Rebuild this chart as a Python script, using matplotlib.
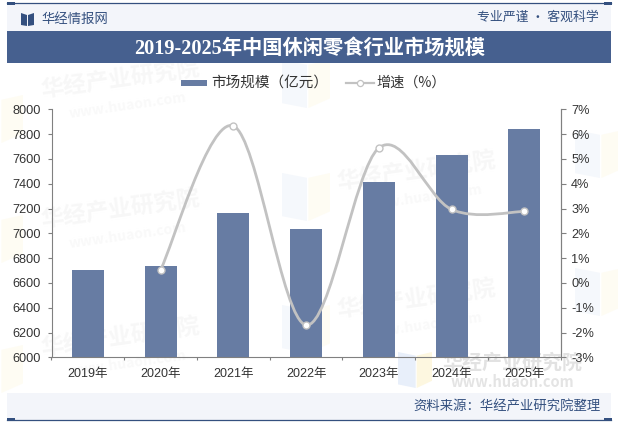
import matplotlib
matplotlib.use("Agg")
from matplotlib import pyplot as plt
from matplotlib.path import Path
from matplotlib.patches import PathPatch, Polygon, Rectangle
import numpy as np

plt.rcParams['font.family'] = ['Liberation Sans', 'Noto Sans CJK SC']

years = ["2019年", "2020年", "2021年", "2022年", "2023年", "2024年", "2025年"]
market_size = [6704, 6736, 7163, 7034, 7414, 7632, 7840]
growth = [0.53, 6.33, -1.7, 5.44, 2.96, 2.88]
left_ticks = list(range(6000, 8001, 200))
right_ticks = list(range(-3, 8))

W, H = 618, 423
NAVY = "#34507f"
BAND = "#46608f"
PALE = "#f3f5fa"
BAR = "#677ca3"
LINE = "#c2c2c2"
AXIS = "#808080"
TEXT = "#333333"
CJK = ['Noto Sans CJK SC', 'DejaVu Sans']


# smooth curve through the points as cubic bezier segments
def smooth_path(xs, ys, k=1 / 6):
    pts = list(zip(xs, ys))
    verts = [pts[0]]
    codes = [Path.MOVETO]
    for i in range(len(pts) - 1):
        p0 = pts[max(i - 1, 0)]
        p1 = pts[i]
        p2 = pts[i + 1]
        p3 = pts[min(i + 2, len(pts) - 1)]
        verts.append((p1[0] + (p2[0] - p0[0]) * k, p1[1] + (p2[1] - p0[1]) * k))
        verts.append((p2[0] - (p3[0] - p1[0]) * k, p2[1] - (p3[1] - p1[1]) * k))
        verts.append(p2)
        codes += [Path.CURVE4] * 3
    return Path(verts, codes)


# pale two-colour logo used in the background pattern
def logo(a, x, y, w, h, blue="#f5f8fc", yellow="#fefcf3"):
    a.add_patch(Polygon([(x, y), (x + w * 0.52, y + h * 0.1), (x + w * 0.52, y + h), (x, y + h * 0.9)],
                        fc=blue, ec="none", zorder=0))
    a.add_patch(Polygon([(x + w * 0.55, y + h * 0.1), (x + w, y), (x + w, y + h * 0.8), (x + w * 0.55, y + h)],
                        fc=yellow, ec="none", zorder=0))


fig = plt.figure(figsize=(W / 100, H / 100), dpi=100, facecolor="white")

# page furniture, in pixel coordinates
bg = fig.add_axes([0, 0, 1, 1], zorder=0)
bg.set_xlim(0, W)
bg.set_ylim(H, 0)
bg.axis("off")

# background pattern, kept under the header and footer bands
for x, y in [(120, 80), (120, 210), (120, 338), (416, 172), (416, 300)]:
    bg.text(x, y, "华经产业研究院", fontsize=16.5, color="#f7f7f7", fontweight="bold",
            rotation=8, va="center", ha="center", family=CJK, zorder=1)
    bg.text(x + 8, y + 26, "www.huaon.com", fontsize=10, color="#f9f9f9", fontweight="bold",
            rotation=8, va="center", ha="center", family=CJK, zorder=1)
for x, y in [(-25, 95), (-25, 215), (-25, 345), (282, 173), (282, 305), (575, 130), (575, 268), (282, 60)]:
    logo(bg, x, y, 48, 48)
logo(bg, 398, 352, 34, 36, "#e8effa", "#fdf7e0")
bg.text(512, 362, "华经产业研究院", fontsize=14.4, color="#e2e2e2", fontweight="bold",
        va="center", ha="center", family=CJK, zorder=1)
bg.text(512, 382, "www.huaon.com", fontsize=10.5, color="#e4e4e4", fontweight="bold",
        va="center", ha="center", family=CJK, zorder=1)

bg.add_patch(Rectangle((7, 4), 604, 27, fc=PALE, ec="none", zorder=2))
bg.add_patch(Rectangle((7, 31), 604, 32, fc=BAND, ec="none", zorder=2))
bg.add_patch(Rectangle((7, 393), 604, 27, fc=PALE, ec="none", zorder=2))
for y in (3.5, 420):
    bg.plot([7, 611], [y, y], color=NAVY, lw=0.9, zorder=3)
    bg.add_patch(Rectangle((7, y - 1.5), 8, 3, fc=NAVY, ec="none", zorder=3))
    bg.add_patch(Rectangle((604, y - 1.5), 8, 3, fc=NAVY, ec="none", zorder=3))

# book logo in the header
bg.add_patch(Polygon([(21, 13), (27, 15), (27, 26), (21, 25)], fc=NAVY, ec="none", zorder=3))
bg.add_patch(Polygon([(28, 15), (34, 13), (34, 25), (28, 26)], fc=NAVY, ec="none", zorder=3))
bg.text(41.5, 18.5, "华经情报网", fontsize=9.6, color=NAVY, va="center", family=CJK, zorder=4)
bg.text(599, 17, "专业严谨 • 客观科学", fontsize=9.3, color=NAVY, va="center", ha="right", family=CJK, zorder=4)
bg.text(309.5, 49.5, "2019-2025年中国休闲零食行业市场规模", fontsize=14.6, color="white",
        fontweight="bold", va="center", ha="center", zorder=4,
        family=["Liberation Serif", "Noto Sans CJK SC"])
bg.text(601, 406.5, "资料来源：华经产业研究院整理", fontsize=9.6, color=NAVY, va="center", ha="right",
        family=CJK, zorder=4)

# bars on the left axis
ax = fig.add_axes([51.5 / W, 1 - 357.3 / H, 509.2 / W, 248 / H], zorder=1)
ax.patch.set_alpha(0)
x = np.arange(len(years))
ax.bar(x, market_size, width=0.44, color=BAR, label="市场规模（亿元）")
ax.set_xlim(-0.5, 6.5)
ax.set_ylim(6000, 8000)
ax.set_yticks(left_ticks)
ax.set_xticks(x)
ax.set_xticklabels(years)
ax.set_xticks(np.arange(-0.5, 7), minor=True)
ax.tick_params(axis="x", which="major", length=0, labelsize=9, labelcolor=TEXT, pad=8)
ax.tick_params(axis="x", which="minor", length=2.2, color=AXIS, width=0.8)
ax.tick_params(axis="y", length=3, color=AXIS, width=0.8, labelsize=9.2, labelcolor=TEXT, pad=4.5)
ax.spines["top"].set_visible(False)
for side in ("left", "bottom", "right"):
    ax.spines[side].set_color(AXIS)
    ax.spines[side].set_linewidth(0.8)

# growth rate on the right axis, starting from the second year
ax2 = ax.twinx()
ax2.patch.set_alpha(0)
ax2.set_ylim(-3, 7)
ax2.set_yticks(right_ticks)
ax2.set_yticklabels([f"{t}%" for t in right_ticks])
ax2.tick_params(axis="y", length=3.5, color=AXIS, width=0.8, labelsize=9.2, labelcolor=TEXT, pad=4)
for side in ("top", "left", "bottom"):
    ax2.spines[side].set_visible(False)
ax2.spines["right"].set_color(AXIS)
ax2.spines["right"].set_linewidth(0.8)
ax2.add_patch(PathPatch(smooth_path(x[1:], growth), fc="none", ec=LINE, lw=2, capstyle="round"))
ax2.plot(x[1:], growth, ls="none", marker="o", ms=5, mfc="white", mec=LINE, mew=1)

# legend drawn by hand so it sits above the plot
bg.add_patch(Rectangle((181, 80), 26, 6, fc=BAR, ec="none", zorder=4))
bg.text(211, 83, "市场规模（亿元）", fontsize=10.5, color=TEXT, va="center", family=CJK, zorder=4)
bg.plot([346, 374], [83.5, 83.5], color=LINE, lw=1.6, zorder=4)
bg.plot([360], [83.5], marker="o", ms=4.4, mfc="white", mec=LINE, mew=0.9, zorder=5)
bg.text(376, 83, "增速（%）", fontsize=10.2, color=TEXT, va="center", family=CJK, zorder=4)

fig.savefig("out.png", dpi=100)
